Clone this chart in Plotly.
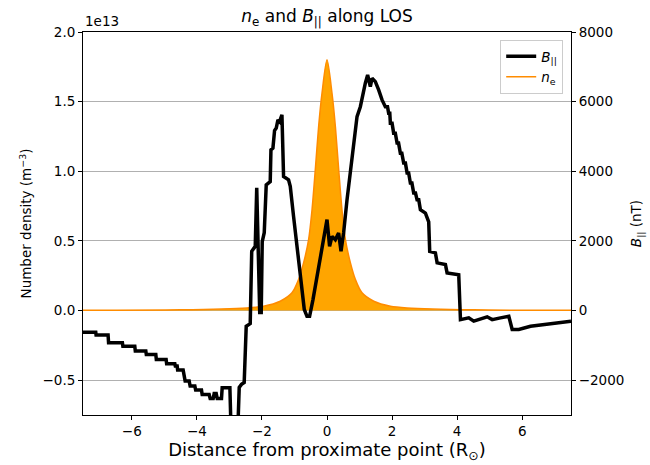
import plotly.graph_objects as go

# ---- data ----
# B_parallel along LOS (nT)
b_x = [-7.5, -7.108, -7.098, -6.729, -6.714, -6.289, -6.274, -5.908, -5.892, -5.569,
       -5.554, -5.262, -5.246, -4.945, -4.929, -4.677, -4.662, -4.606, -4.591, -4.422,
       -4.360, -4.237, -4.206, -4.062, -4.037, -3.858, -3.837, -3.622, -3.591, -3.498,
       -3.468, -3.406, -3.375, -3.243, -3.222, -2.985, -2.960, -2.729, -2.698, -2.628,
       -2.545, -2.483, -2.360, -2.314, -2.206, -2.160, -2.068, -2.022, -1.991, -1.929,
       -1.868, -1.745, -1.723, -1.662, -1.612, -1.560, -1.508, -1.458, -1.385, -1.335,
       -1.182, -1.129, -1.028, -0.945, -0.843, -0.791, -0.698, -0.615, -0.535, -0.431,
       -0.289, -0.105, 0.0, 0.080, 0.154, 0.255, 0.357, 0.431, 0.511, 0.615,
       0.717, 0.818, 0.923, 1.025, 1.108, 1.178, 1.249, 1.332, 1.385, 1.486,
       1.588, 1.692, 1.794, 1.86, 1.895, 1.93, 1.948, 2.0, 2.049, 2.1,
       2.154, 2.2, 2.255, 2.3, 2.357, 2.41, 2.462, 2.51, 2.563, 2.61,
       2.665, 2.72, 2.769, 2.82, 2.871, 3.025, 3.126, 3.157, 3.332, 3.385,
       3.640, 3.692, 4.049, 4.102, 4.357, 4.511, 4.923, 5.077, 5.332, 5.588,
       5.692, 5.895, 6.255, 6.665, 7.077, 7.5]
b_par = [-620, -620, -700, -700, -925, -925, -1025, -1025, -1165, -1165,
         -1260, -1260, -1405, -1405, -1530, -1530, -1595, -1595, -1710, -1710,
         -2025, -2025, -2170, -2170, -2285, -2285, -2410, -2410, -2525, -2525,
         -2380, -2380, -2525, -2525, -2215, -2215, -3070, -3070, -2205, -2120,
         -2065, -450, -375, 1700, 1845, 3525, -55, -55, 1980, 2235,
         3610, 3705, 4615, 4665, 5170, 5240, 5475, 5425, 5620, 3850,
         3755, 3565, 2705, 2035, 1270, 695, 30, -165, -165, 315,
         1080, 1940, 2610, 1845, 2130, 2035, 2230, 1700, 2230, 3180,
         3950, 4900, 5570, 5855, 6240, 6530, 6765, 6430, 6670, 6575,
         6335, 6050, 5855, 5855, 5670, 5670, 5380, 5380, 5095, 5095,
         4810, 4810, 4520, 4520, 4235, 4235, 3950, 3950, 3660, 3660,
         3375, 3375, 3180, 3180, 2895, 2800, 2550, 1700, 1655, 1370,
         1320, 1080, 1030, -260, -210, -305, -180, -260, -210, -165,
         -545, -545, -450, -400, -335, -305]

# electron number density along LOS (m^-3)
ne_x = [-7.5, -4.5, -2.46, -1.95, -1.437, -1.077, -0.874, -0.72, -0.566, -0.46, -0.36,
        -0.258, -0.154, 0.0, 0.154, 0.258, 0.36, 0.46, 0.566, 0.72, 0.874, 1.077,
        1.437, 1.95, 2.46, 4.5, 7.5]
ne_val = [0.002e13, 0.005e13, 0.019e13, 0.031e13, 0.067e13, 0.127e13, 0.222e13, 0.342e13,
          0.509e13, 0.724e13, 1.01e13, 1.32e13, 1.56e13, 1.80e13, 1.56e13, 1.32e13, 1.01e13,
          0.724e13, 0.509e13, 0.342e13, 0.222e13, 0.127e13, 0.067e13, 0.031e13, 0.019e13,
          0.005e13, 0.002e13]

x_ticks = [-6, -4, -2, 0, 2, 4, 6]
x_ticklabels = ["\u22126", "\u22124", "\u22122", "0", "2", "4", "6"]
ne_ticks = [-0.5e13, 0.0, 0.5e13, 1.0e13, 1.5e13, 2.0e13]
ne_ticklabels = ["\u22120.5", "0.0", "0.5", "1.0", "1.5", "2.0"]
b_ticks = [-2000, 0, 2000, 4000, 6000, 8000]
b_ticklabels = ["\u22122000", "0", "2000", "4000", "6000", "8000"]

FONT = "DejaVu Sans, Liberation Sans, sans-serif"

fig = go.Figure()
# filled area under n_e (no legend entry)
fig.add_trace(go.Scatter(x=ne_x, y=ne_val, mode="lines", fill="tozeroy",
                         fillcolor="#FFA500",
                         line=dict(color="#FFA500", width=0, shape="spline", smoothing=0.8),
                         showlegend=False, yaxis="y", hoverinfo="skip"))
# n_e line
fig.add_trace(go.Scatter(x=ne_x, y=ne_val, mode="lines",
                         line=dict(color="#FF8C00", width=1.5, shape="spline", smoothing=0.8),
                         name="<i>n</i><sub>e</sub>", legendrank=2, yaxis="y"))
fig.add_trace(go.Scatter(x=b_x, y=b_par, mode="lines",
                         line=dict(color="black", width=3.5),
                         name="<i>B</i><sub>||</sub>", legendrank=1, yaxis="y2"))

axis_common = dict(showline=True, linecolor="black", linewidth=1, ticks="outside",
                   ticklen=4, tickwidth=1, tickcolor="black", zeroline=False,
                   automargin=False,
                   tickfont=dict(family=FONT, size=13.5, color="black"))

fig.update_layout(
    width=650, height=465,
    margin=dict(l=83, r=79, t=32, b=50, autoexpand=False),
    paper_bgcolor="white", plot_bgcolor="white",
    font=dict(family=FONT, color="black"),
    title=dict(text="<i>n</i><sub>e</sub> and <i>B</i><sub>||</sub> along LOS",
               x=0.5, xref="paper", xanchor="center", y=1, yref="paper", yanchor="bottom",
               pad=dict(b=10), font=dict(family=FONT, size=17, color="black")),
    xaxis=dict(range=[-7.5, 7.5], tickvals=x_ticks, ticktext=x_ticklabels, mirror=True,
               showgrid=False,
               title=dict(text="Distance from proximate point (R<sub>\u2299</sub>)",
                          font=dict(family=FONT, size=18, color="black"), standoff=4),
               **axis_common),
    yaxis=dict(range=[-0.75e13, 2.0e13], tickvals=ne_ticks, ticktext=ne_ticklabels,
               showgrid=True, gridcolor="#b0b0b0", gridwidth=1,
               title=dict(text="Number density (m<sup>\u22123</sup>)",
                          font=dict(family=FONT, size=13.5, color="black"), standoff=7),
               **axis_common),
    yaxis2=dict(range=[-3000, 8000], tickvals=b_ticks, ticktext=b_ticklabels,
                overlaying="y", side="right", showgrid=False,
                title=dict(text="<i>B</i><sub>||</sub> (nT)",
                           font=dict(family=FONT, size=13.5, color="black"), standoff=8),
                **axis_common),
    legend=dict(x=0.984, y=0.979, xanchor="right", yanchor="top",
                bgcolor="rgba(255,255,255,0.8)", bordercolor="#cccccc", borderwidth=1,
                font=dict(family=FONT, size=13.5, color="black"), itemwidth=30,
                tracegroupgap=0),
    showlegend=True,
    annotations=[dict(text="1e13", xref="paper", yref="paper", x=0, y=1,
                      xanchor="left", yanchor="bottom", showarrow=False, yshift=1,
                      font=dict(family=FONT, size=13.5, color="black"))],
)

fig.write_html("out.html")
